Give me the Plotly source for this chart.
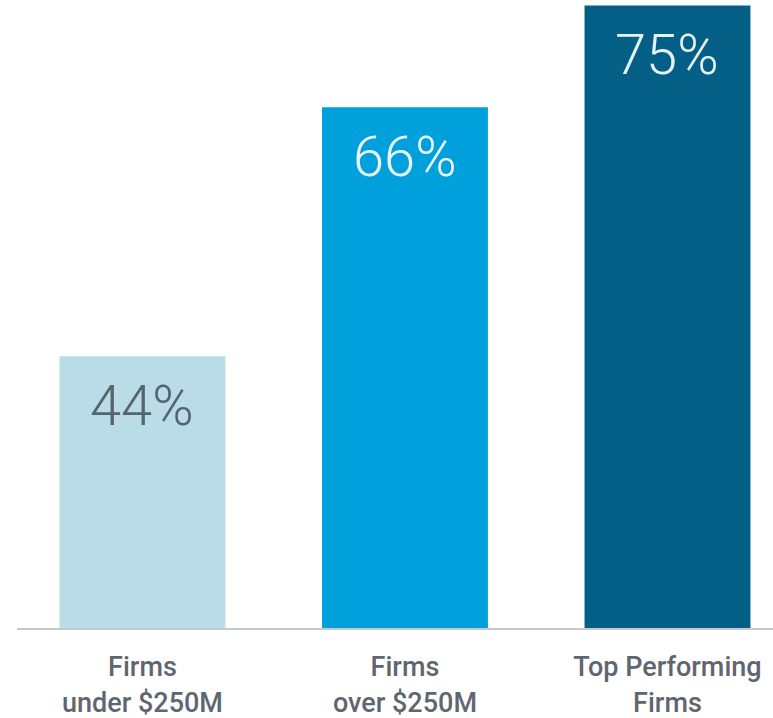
import plotly.graph_objects as go

# Share of firms, by group
categories = ["Firms<br>under $250M", "Firms<br>over $250M", "Top Performing<br>Firms"]
values = [44, 66, 75]
bar_colors = ["#b9dce6", "#00a0dd", "#035f86"]
label_colors = ["#56646f", "#eaf6fc", "#e6f1f6"]

x_pos = list(range(len(values)))

fig = go.Figure()
fig.add_trace(go.Bar(
    x=x_pos,
    y=values,
    width=0.632,
    marker=dict(color=bar_colors, line=dict(width=0)),
    hoverinfo="skip",
))

# Percentage labels set inside the top of each bar
for xi, v, c in zip(x_pos, values, label_colors):
    fig.add_annotation(
        x=xi, y=v, text=f"{v}%", showarrow=False,
        yanchor="top", yshift=-15,
        font=dict(family="Roboto", size=56, color=c, weight=300),
    )

fig.update_layout(
    width=773, height=718,
    margin=dict(l=17, r=0, t=0, b=90),
    paper_bgcolor="white", plot_bgcolor="white",
    showlegend=False,
    xaxis=dict(
        tickmode="array", tickvals=x_pos, ticktext=categories,
        range=[-0.478, 2.402],
        showline=True, linecolor="#c8c8c8", linewidth=2,
        showgrid=False, zeroline=False, ticks="",
        tickfont=dict(family="Roboto", size=27, color="#5f6670", weight=500),
        ticklabelstandoff=14,
    ),
    yaxis=dict(
        range=[20, 75.48],
        visible=False, showgrid=False, zeroline=False,
    ),
)

fig.write_html("out.html")
